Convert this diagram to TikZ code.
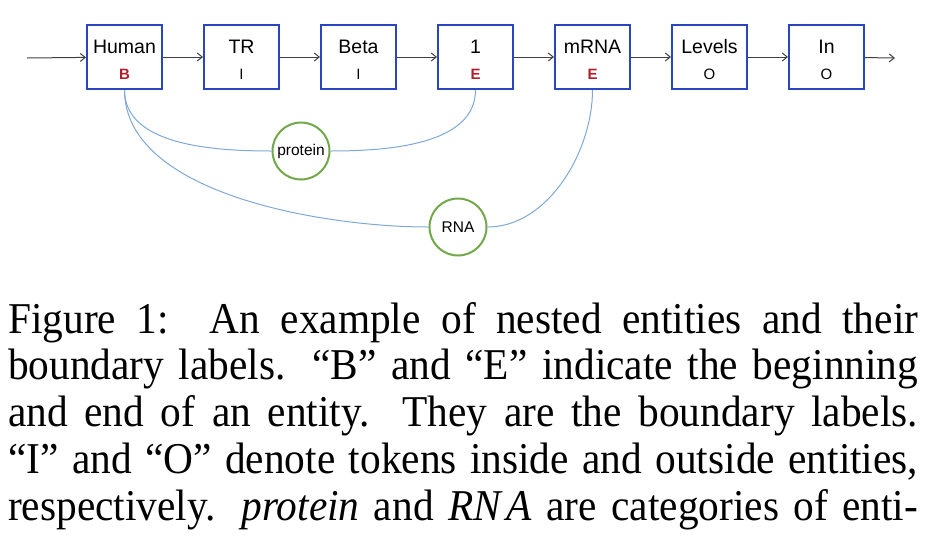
\documentclass[tikz,border=0pt]{standalone}
\usepackage{fontspec}
\setsansfont{Liberation Sans}
\newfontfamily\capfont[FakeStretch=0.94]{Liberation Serif}
\usetikzlibrary{positioning,arrows.meta}
\definecolor{boxblue}{HTML}{2A45C0}
\definecolor{tagred}{HTML}{B0202A}
\definecolor{linkblue}{HTML}{7FA8D4}
\definecolor{catgreen}{HTML}{72A84A}
\newcommand{\btag}[1]{{\fontsize{15}{15}\selectfont\bfseries\color{tagred}#1}}
\newcommand{\itag}[1]{{\fontsize{15}{15}\selectfont #1}}
\tikzset{
  tok/.style={draw=boxblue,line width=2pt,minimum width=75pt,minimum height=64pt,
    inner sep=0pt,align=center,font=\sffamily\fontsize{19.5}{25.5}\selectfont},
  cat/.style={circle,draw=catgreen,line width=2pt,minimum size=57pt,inner sep=0pt,
    font=\sffamily\fontsize{15.5}{15.5}\selectfont},
  flow/.style={-{Straight Barb[length=5pt,width=8pt]},draw=black!75,line width=1pt},
  span/.style={draw=linkblue,line width=1pt},
  capline/.style={anchor=base west,inner sep=0pt,font=\capfont\fontsize{44}{47}\selectfont}
}
\begin{document}
\begin{tikzpicture}[x=1pt,y=1pt]
\useasboundingbox (0,0) rectangle (936,-547);
% token chain
\node[tok] (human) at (124.5,-57) {\rule{0pt}{19pt}Human\\\btag{B}};
\node[tok,right=40pt of human] (tr) {\rule{0pt}{19pt}TR\\\itag{I}};
\node[tok,right=40pt of tr] (beta) {\rule{0pt}{19pt}Beta\\\itag{I}};
\node[tok,right=40pt of beta] (one) {\rule{0pt}{19pt}1\\\btag{E}};
\node[tok,right=40pt of one] (mrna) {\rule{0pt}{19pt}mRNA\\\btag{E}};
\node[tok,right=40pt of mrna] (levels) {\rule{0pt}{19pt}Levels\\\itag{O}};
\node[tok,right=40pt of levels] (in) {\rule{0pt}{19pt}In\\\itag{O}};
\coordinate (start) at (27,-58);
\coordinate (end) at (895,-58);
\draw[flow] (start) -- (human);
\foreach \a/\b in {human/tr,tr/beta,beta/one,one/mrna,mrna/levels,levels/in}
  \draw[flow] (\a) -- (\b);
\draw[flow] (in) -- (end);
% entity categories
\node[cat] (protein) at (301,-151) {protein};
\node[cat] (rna) at (458,-227) {RNA};
\draw[span] (human.south) to[out=-90,in=180,looseness=0.9] (protein.west);
\draw[span] (protein.east) to[out=0,in=-90,looseness=0.9] (one.south);
\draw[span] (human.south) to[out=-90,in=180,looseness=0.8] (rna.west);
\draw[span] (rna.east) to[out=0,in=-90,looseness=0.9] (mrna.south);
% caption
\node[capline] (cap1) at (8,-333) {\makebox[910pt][s]{Figure 1:\ \ An example of nested entities and their}};
\node[capline] (cap2) at (8,-379) {\makebox[910pt][s]{boundary labels. “B” and “E” indicate the beginning}};
\node[capline] (cap3) at (8,-426) {\makebox[910pt][s]{and end of an entity. They are the boundary labels.}};
\node[capline] (cap4) at (8,-473) {\makebox[910pt][s]{“I” and “O” denote tokens inside and outside entities,}};
\node[capline] (cap5) at (8,-520) {\makebox[910pt][s]{respectively. {\itshape protein} and {\itshape RN\kern6pt A} are categories of enti-}};
\end{tikzpicture}
\end{document}
